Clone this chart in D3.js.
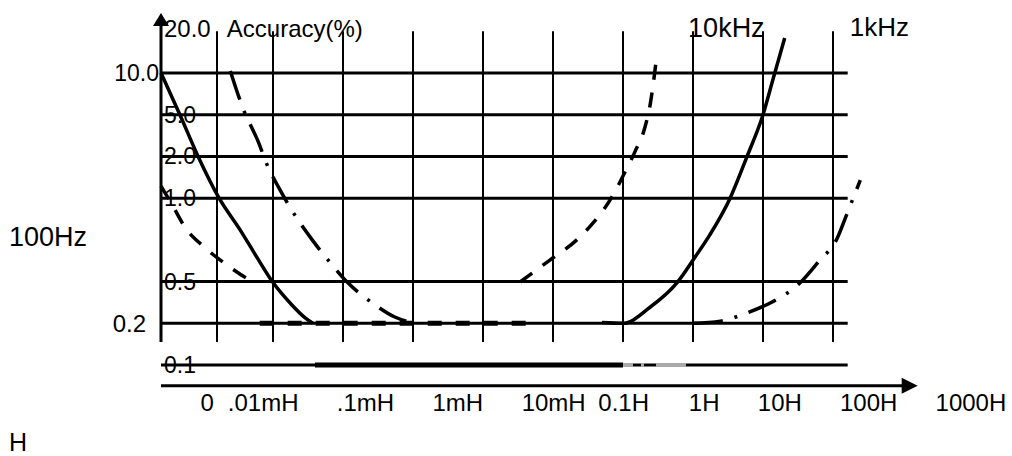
<!DOCTYPE html>
<html>
<head>
<meta charset="utf-8">
<script src="https://cdn.jsdelivr.net/npm/d3@7"></script>
<style>
  html, body { margin: 0; padding: 0; background: #fff; }
  svg { display: block; font-family: "Liberation Sans", Arial, sans-serif; }
</style>
</head>
<body>
<div id="chart-area"></div>
<script>
// accuracy levels (%), placed on rows of the chart (row 4 is left empty)
const yTickLabels = ["20.0", "10.0", "5.0", "2.0", "1.0", "0.5", "0.2", "0.1"];
const yTickRows = [-1, 0, 1, 2, 3, 5, 6, 7];
const gridRows = [0, 1, 2, 3, 5, 6, 7];

// inductance axis, in column units
const xGridCols = [0, 0.8, 1.6, 2.6, 3.6, 4.6, 5.6, 6.6, 7.6, 8.6, 9.6];
const xTickLabels = ["0", ".01mH", ".1mH", "1mH", "10mH", "0.1H", "1H", "10H", "100H", "1000H"];
const xTickCols = [0.66, 1.46, 2.92, 4.24, 5.61, 6.61, 7.76, 8.84, 10.11, 11.57];

// curves as [column, row]
const solidLow = [[0, 0], [0.27, 1.0], [0.53, 2.0], [0.83, 3.0], [1.13, 3.76], [1.36, 4.39],
  [1.59, 5.0], [1.87, 5.56], [2.06, 5.87], [2.17, 6.0]];
const solidHigh = [[6.3, 5.98], [6.6, 6.0], [6.99, 5.61], [7.37, 5.03], [7.63, 4.41], [7.84, 3.88],
  [8.13, 3.0], [8.37, 2.01], [8.6, 1.0], [8.74, 0.17], [8.91, -0.84]];
const solidFloor = [[2.2, 7], [6.6, 7]];

const dashedLow = [[0, 2.71], [0.16, 3.16], [0.34, 3.69], [0.63, 4.19], [0.94, 4.6], [1.27, 4.96], [1.36, 5.03]];
const dashedFlat = [[1.41, 6], [5.21, 6]];
const dashedHigh = [[5.13, 5.01], [5.56, 4.48], [5.94, 4.0], [6.17, 3.6], [6.46, 2.92], [6.6, 2.47],
  [6.77, 1.89], [6.91, 1.32], [6.99, 0.74], [7.03, 0.29], [7.07, -0.24]];

const dashDotLow = [[0.99, -0.05], [1.17, 0.84], [1.39, 1.65], [1.51, 2.18], [1.7, 2.8], [1.91, 3.4],
  [2.16, 4.0], [2.41, 4.53], [2.67, 5.03], [3.06, 5.56], [3.34, 5.85], [3.6, 5.99]];
const dashDotHigh = [[7.6, 6.0], [7.99, 5.95], [8.37, 5.75], [8.73, 5.49], [9.13, 5.03], [9.39, 4.53],
  [9.66, 3.96], [9.81, 3.33], [9.99, 2.57]];
const dashDotFloor = [[6.6, 7], [7.6, 7]];

const freqLabels = ["100Hz", "10kHz", "1kHz"];

function renderChart() {
    const svgWidth = 1012;
    const svgHeight = 456;

    const svg = d3.select("#chart-area")
        .append("svg")
        .attr("width", svgWidth)
        .attr("height", svgHeight);

    const xScale = d3.scaleLinear().domain([0, 10]).range([161, 861]);
    const yScale = d3.scaleLinear().domain([0, 7]).range([73, 365]);

    const lineRight = xScale(9.81);
    const gridTop = yScale(-1);
    const gridBottom = yScale(6.45);
    const axisY = yScale(7.5);

    // vertical grid lines
    svg.append("g")
        .selectAll("line")
        .data(xGridCols.slice(1))
        .join("line")
        .attr("x1", d => xScale(d))
        .attr("x2", d => xScale(d))
        .attr("y1", gridTop)
        .attr("y2", gridBottom)
        .attr("stroke", "#000")
        .attr("stroke-width", 2);

    // horizontal lines
    svg.append("g")
        .selectAll("line")
        .data(gridRows)
        .join("line")
        .attr("x1", xScale(0))
        .attr("x2", lineRight)
        .attr("y1", d => yScale(d))
        .attr("y2", d => yScale(d))
        .attr("stroke", "#000")
        .attr("stroke-width", 3);

    // y axis with arrow
    svg.append("line")
        .attr("x1", xScale(0)).attr("x2", xScale(0))
        .attr("y1", yScale(-1.3)).attr("y2", gridBottom)
        .attr("stroke", "#000").attr("stroke-width", 3);
    const yTip = yScale(-1.44);
    svg.append("path")
        .attr("d", `M${xScale(0)},${yTip} L${xScale(0) - 8},${yTip + 13} L${xScale(0) + 8},${yTip + 13} Z`)
        .attr("fill", "#000");

    // x axis with arrow
    const xTip = xScale(10.81);
    svg.append("line")
        .attr("x1", xScale(0)).attr("x2", xTip - 14)
        .attr("y1", axisY).attr("y2", axisY)
        .attr("stroke", "#000").attr("stroke-width", 3);
    svg.append("path")
        .attr("d", `M${xTip},${axisY} L${xTip - 16},${axisY - 8} L${xTip - 16},${axisY + 8} Z`)
        .attr("fill", "#000");

    const line = d3.line()
        .x(d => xScale(d[0]))
        .y(d => yScale(d[1]))
        .curve(d3.curveMonotoneX);

    const curves = [
        { pts: solidLow, dash: null, w: 3.5, color: "#000" },
        { pts: solidHigh, dash: null, w: 3.5, color: "#000" },
        { pts: solidFloor, dash: null, w: 5, color: "#000" },
        { pts: dashedLow, dash: "15,13", w: 3.5, color: "#000" },
        { pts: dashedFlat, dash: "14,14", w: 5, color: "#000" },
        { pts: dashedHigh, dash: "15,13", w: 3.5, color: "#000" },
        { pts: dashDotLow, dash: "30,12,3,12", w: 3.5, color: "#000" },
        { pts: dashDotHigh, dash: "30,12,3,12", w: 3.5, color: "#000" },
        { pts: dashDotFloor, dash: "10,8,3,12,30", w: 4, color: "#aaa" }
    ];

    svg.append("g")
        .selectAll("path")
        .data(curves)
        .join("path")
        .attr("d", d => line(d.pts))
        .attr("fill", "none")
        .attr("stroke", d => d.color)
        .attr("stroke-width", d => d.w)
        .attr("stroke-dasharray", d => d.dash);

    // y tick labels
    svg.append("g")
        .selectAll("text")
        .data(yTickLabels)
        .join("text")
        .attr("x", (d, i) => {
            if (d === "10.0") return xScale(0) - 2;
            if (d === "0.2") return xScale(0) - 15;
            return xScale(0) + 3;
        })
        .attr("y", (d, i) => yScale(yTickRows[i]))
        .attr("dy", d => d === "20.0" ? "0.25em" : "0.35em")
        .attr("text-anchor", d => (d === "10.0" || d === "0.2") ? "end" : "start")
        .style("font-size", d => (d === "20.0" || d === "0.2") ? "24px" : "23px")
        .text(d => d);

    svg.append("text")
        .attr("x", xScale(0.94))
        .attr("y", yScale(-1))
        .attr("dy", "0.25em")
        .style("font-size", "24px")
        .text("Accuracy(%)");

    // x tick labels
    svg.append("g")
        .selectAll("text")
        .data(xTickLabels)
        .join("text")
        .attr("x", (d, i) => xScale(xTickCols[i]))
        .attr("y", axisY + 25)
        .attr("text-anchor", "middle")
        .style("font-size", "24px")
        .text(d => d);

    svg.append("text")
        .attr("x", 9)
        .attr("y", axisY + 65)
        .style("font-size", "25px")
        .text("H");

    // frequency labels
    svg.append("text")
        .attr("x", 9)
        .attr("y", yScale(3.93))
        .attr("dy", "0.35em")
        .style("font-size", "27px")
        .text(freqLabels[0]);

    svg.append("text")
        .attr("x", xScale(7.53))
        .attr("y", yScale(-1))
        .attr("dy", "0.2em")
        .style("font-size", "27px")
        .text(freqLabels[1]);

    svg.append("text")
        .attr("x", xScale(9.84))
        .attr("y", yScale(-1))
        .attr("dy", "0.2em")
        .style("font-size", "26px")
        .text(freqLabels[2]);
}

renderChart();
</script>
</body>
</html>
